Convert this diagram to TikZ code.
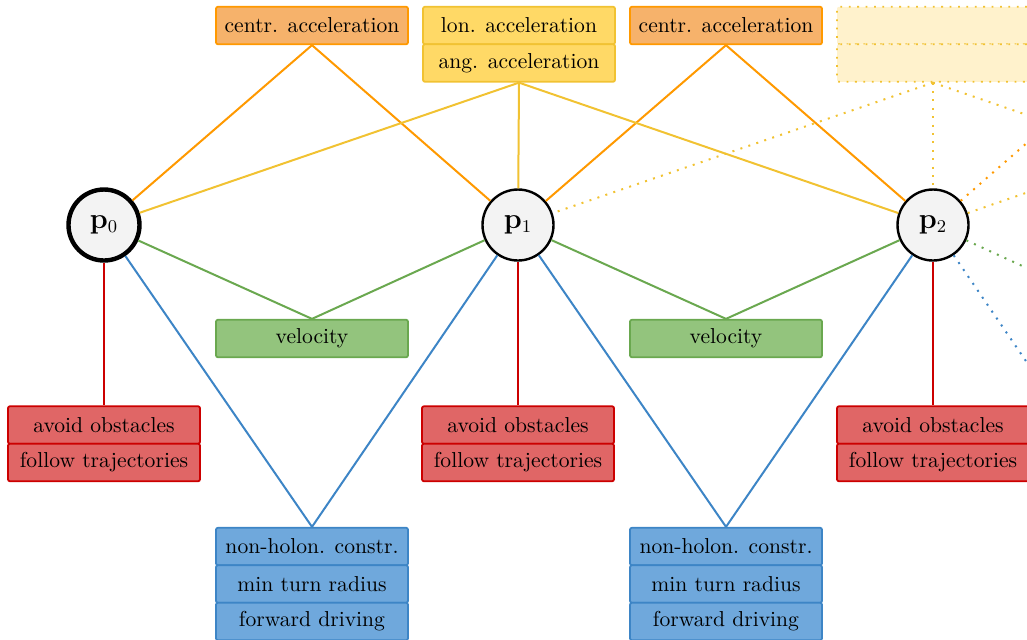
\documentclass[tikz,border=0pt]{standalone}
\usetikzlibrary{calc}
\definecolor{orgL}{HTML}{FF9900}
\definecolor{orgF}{HTML}{F6B26B}
\definecolor{yelL}{HTML}{F1C232}
\definecolor{yelF}{HTML}{FFD966}
\definecolor{yelP}{HTML}{FFF2CC}
\definecolor{grnL}{HTML}{6AA84F}
\definecolor{grnF}{HTML}{93C47D}
\definecolor{redL}{HTML}{CC0000}
\definecolor{redF}{HTML}{E06666}
\definecolor{bluL}{HTML}{3D85C6}
\definecolor{bluF}{HTML}{6FA8DC}
\definecolor{stateF}{HTML}{F3F3F3}
\begin{document}
\begin{tikzpicture}[x=0.5pt,y=-0.5pt,
  box/.style={rectangle, rounded corners=1pt, line width=0.9pt,
    minimum width=96pt, minimum height=18.75pt, inner sep=0pt,
    font=\fontsize{10.8}{12}\selectfont},
  cons/.style={box, draw=#1L, fill=#1F},
  ghost/.style={box, draw=yelL, fill=yelP, dash pattern=on 0.9pt off 3.3pt},
  state/.style={circle, draw=black, fill=stateF, line width=1.2pt,
    minimum size=35.5pt, inner sep=0pt, font=\fontsize{13.5}{15}\selectfont},
  link/.style={line width=1pt, draw=#1L},
  faint/.style={line width=1pt, draw=#1L, dash pattern=on 1pt off 3.2pt},
]
\useasboundingbox (0,0) rectangle (1027,639);
\begin{scope}
\clip (0,0) rectangle (1027,639);

% states along the trajectory
\node[state, line width=2.2pt] (p0) at (104,225) {$\mathbf{p}_0$};
\node[state] (p1) at (518,225) {$\mathbf{p}_1$};
\node[state] (p2) at (933,225) {$\mathbf{p}_2$};
\coordinate (p3) at (1347,225);

% centripetal acceleration factors (between consecutive states)
\node[cons=org] (cenA) at (312,25.5) {centr. acceleration};
\node[cons=org] (cenB) at (726,25.5) {centr. acceleration};
\coordinate (cenC) at (1140,44);

% acceleration factors (above each state)
\node[cons=yel] (lonA) at (519,25.5) {lon. acceleration};
\node[cons=yel] (angA) at (519,63) {ang. acceleration};
\node[ghost] (lonB) at (933,25.5) {};
\node[ghost] (angB) at (933,63) {};
\coordinate (angC) at (1347,82);

% velocity factors
\node[cons=grn] (velA) at (312,338.5) {velocity};
\node[cons=grn] (velB) at (726,338.5) {velocity};
\coordinate (velC) at (1140,320);

% obstacle / trajectory factors
\node[cons=red] (avA) at (104,425) {avoid obstacles};
\node[cons=red] (foA) at (104,462.5) {follow trajectories};
\node[cons=red] (avB) at (518,425) {avoid obstacles};
\node[cons=red] (foB) at (518,462.5) {follow trajectories};
\node[cons=red] (avC) at (933,425) {avoid obstacles};
\node[cons=red] (foC) at (933,462.5) {follow trajectories};

% kinematic factors
\node[cons=blu] (nhA) at (312,546.5) {non-holon. constr.};
\node[cons=blu] (mtA) at (312,584) {min turn radius};
\node[cons=blu] (fdA) at (312,621.5) {forward driving};
\node[cons=blu] (nhB) at (726,546.5) {non-holon. constr.};
\node[cons=blu] (mtB) at (726,584) {min turn radius};
\node[cons=blu] (fdB) at (726,621.5) {forward driving};
\coordinate (nhC) at (1140,528);

% connections
\draw[link=org] (cenA.south) -- (p0);
\draw[link=org] (cenA.south) -- (p1);
\draw[link=org] (cenB.south) -- (p1);
\draw[link=org] (cenB.south) -- (p2);
\draw[faint=org] (p2) -- (cenC);

\draw[link=yel] (angA.south) -- (p0);
\draw[link=yel] (angA.south) -- (p1);
\draw[link=yel] (angA.south) -- (p2);
\draw[faint=yel] (angB.south) -- (p1);
\draw[faint=yel] (angB.south) -- (p2);
\draw[faint=yel] (angB.south) -- (p3);
\draw[faint=yel] (p2) -- (angC);

\draw[link=grn] (velA.north) -- (p0);
\draw[link=grn] (velA.north) -- (p1);
\draw[link=grn] (velB.north) -- (p1);
\draw[link=grn] (velB.north) -- (p2);
\draw[faint=grn] (p2) -- (velC);

\draw[link=red] (p0) -- (avA);
\draw[link=red] (p1) -- (avB);
\draw[link=red] (p2) -- (avC);

\draw[link=blu] (nhA.north) -- (p0);
\draw[link=blu] (nhA.north) -- (p1);
\draw[link=blu] (nhB.north) -- (p1);
\draw[link=blu] (nhB.north) -- (p2);
\draw[faint=blu] (p2) -- (nhC);
\end{scope}
\end{tikzpicture}
\end{document}
